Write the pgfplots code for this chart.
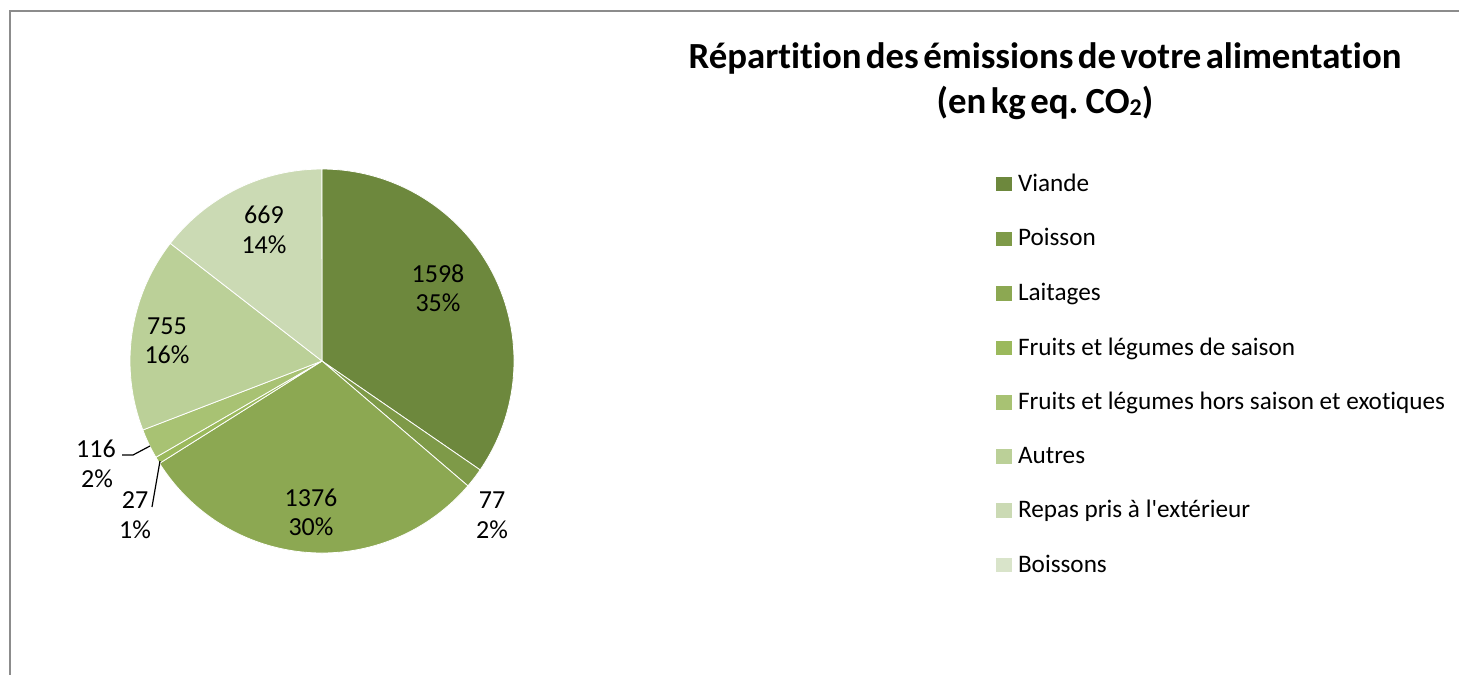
\documentclass[border=0pt]{standalone}
\usepackage{pgfplots}
\pgfplotsset{compat=1.18}
\usepackage{fontspec}
\setmainfont{Carlito}[Ligatures=NoCommon]
\definecolor{cA}{HTML}{6D883D}
\definecolor{cB}{HTML}{7E9A48}
\definecolor{cC}{HTML}{8CA852}
\definecolor{cD}{HTML}{9BB95C}
\definecolor{cE}{HTML}{A8C273}
\definecolor{cF}{HTML}{BBD098}
\definecolor{cG}{HTML}{CBDAB4}
\definecolor{cH}{HTML}{D9E4CA}
\definecolor{frame}{HTML}{8C8C8C}
% values (kg eq. CO2)
\def\vA{1598}\def\vB{77}\def\vC{1376}\def\vD{27}\def\vE{116}\def\vF{755}\def\vG{669}\def\vH{0}
\pgfmathsetmacro\T{\vA+\vB+\vC+\vD+\vE+\vF+\vG+\vH}
\pgfmathsetmacro\sA{\vA}
\pgfmathsetmacro\sB{\sA+\vB}
\pgfmathsetmacro\sC{\sB+\vC}
\pgfmathsetmacro\sD{\sC+\vD}
\pgfmathsetmacro\sE{\sD+\vE}
\pgfmathsetmacro\sF{\sE+\vF}
\pgfmathsetmacro\sG{\sF+\vG}
\pgfmathsetmacro\angA{90-360/\T*\sA}
\pgfmathsetmacro\angB{90-360/\T*\sB}
\pgfmathsetmacro\angC{90-360/\T*\sC}
\pgfmathsetmacro\angD{90-360/\T*\sD}
\pgfmathsetmacro\angE{90-360/\T*\sE}
\pgfmathsetmacro\angF{90-360/\T*\sF}
\pgfmathsetmacro\angG{90-360/\T*\sG}
\newcommand\titlefont{\bfseries\fontsize{18.4bp}{22bp}\selectfont\spaceskip=0.12em\relax}
\begin{document}
\begin{tikzpicture}
\begin{scope}[x=0.5bp,y=-0.5bp]
\useasboundingbox (0,0) rectangle (1459,675);
\draw[frame, line width=1bp] (9.5,675) -- (9.5,11.2) -- (1459,11.2);
\end{scope}
\begin{axis}[
  at={(161bp,-180.5bp)}, anchor=origin,
  scale only axis, width=192bp, height=192bp,
  xmin=-1, xmax=1, ymin=-1, ymax=1,
  hide axis, clip=false,
  legend image code/.code={\fill[#1, draw=none] (0bp,-3.6bp) rectangle (8bp,3.6bp);},
  legend style={at={(2.2552,0.9974)}, anchor=north west, draw=none, fill=none,
    inner sep=0pt, outer sep=0pt, row sep=13.1bp,
    font=\fontsize{12.6bp}{14bp}\selectfont, cells={anchor=west},
    /tikz/every odd column/.append style={column sep=1bp}},
]
\addplot[fill=cA, draw=white, line width=0.4pt, domain=\angA:90, samples=90, variable=\t] ({cos(\t)},{sin(\t)}) -- (axis cs:0,0) -- cycle;
\addlegendentry{Viande}
\addplot[fill=cB, draw=white, line width=0.4pt, domain=\angB:\angA, samples=10, variable=\t] ({cos(\t)},{sin(\t)}) -- (axis cs:0,0) -- cycle;
\addlegendentry{Poisson}
\addplot[fill=cC, draw=white, line width=0.4pt, domain=\angC:\angB, samples=90, variable=\t] ({cos(\t)},{sin(\t)}) -- (axis cs:0,0) -- cycle;
\addlegendentry{Laitages}
\addplot[fill=cD, draw=white, line width=0.4pt, domain=\angD:\angC, samples=5, variable=\t] ({cos(\t)},{sin(\t)}) -- (axis cs:0,0) -- cycle;
\addlegendentry{Fruits et légumes de saison}
\addplot[fill=cE, draw=white, line width=0.4pt, domain=\angE:\angD, samples=10, variable=\t] ({cos(\t)},{sin(\t)}) -- (axis cs:0,0) -- cycle;
\addlegendentry{Fruits et légumes hors saison et exotiques}
\addplot[fill=cF, draw=white, line width=0.4pt, domain=\angF:\angE, samples=60, variable=\t] ({cos(\t)},{sin(\t)}) -- (axis cs:0,0) -- cycle;
\addlegendentry{Autres}
\addplot[fill=cG, draw=white, line width=0.4pt, domain=\angG:\angF, samples=60, variable=\t] ({cos(\t)},{sin(\t)}) -- (axis cs:0,0) -- cycle;
\addlegendentry{Repas pris à l\textquotesingle extérieur}
\addlegendimage{fill=cH}
\addlegendentry{Boissons}
\end{axis}
\begin{scope}[x=0.5bp,y=-0.5bp]
\node[inner sep=0pt, anchor=base] at (1045,69) {\titlefont Répartition des émissions de votre alimentation};
\node[inner sep=0pt, anchor=base] at (1045,114) {\titlefont (en kg eq. CO{\fontsize{12bp}{14bp}\selectfont\raisebox{-1bp}{2}})};
\begin{scope}[every node/.style={inner sep=0pt, anchor=base, font=\fontsize{13bp}{15bp}\selectfont}]
\node at (438,282) {1598}; \node at (438,311) {35\%};
\node at (492,508) {77}; \node at (492,538) {2\%};
\node at (311,506) {1376}; \node at (311,535) {30\%};
\node at (135,508) {27}; \node at (135,538) {1\%};
\node at (96,457) {116}; \node at (97,487) {2\%};
\node at (167,334) {755}; \node at (167,363) {16\%};
\node at (264,223) {669}; \node at (264,253) {14\%};
\end{scope}
\draw[black, line width=0.6bp] (150,446) -- (133,455) -- (122,455);
\draw[black, line width=0.6bp] (160,461) -- (152,507);
\end{scope}
\end{tikzpicture}
\end{document}
